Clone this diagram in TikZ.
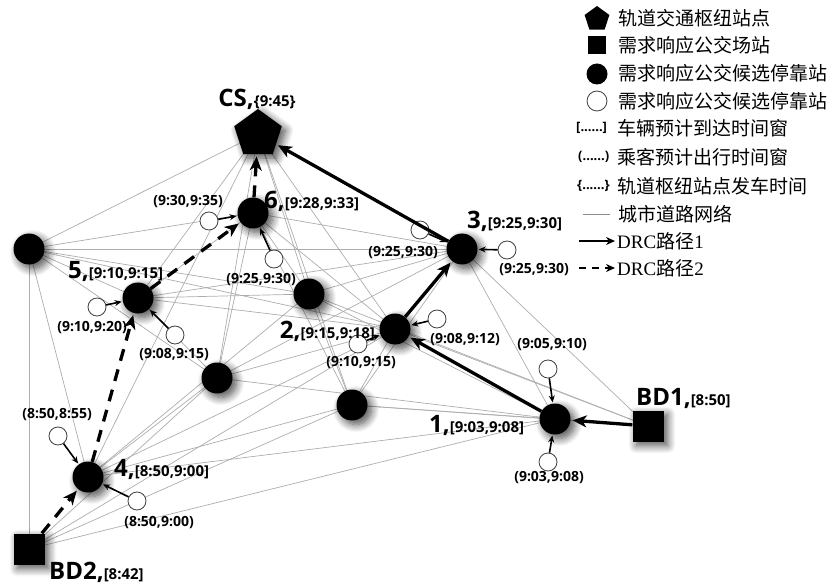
\documentclass[tikz,border=0pt]{standalone}
\usepackage{fontspec}
\usetikzlibrary{shapes.geometric,arrows.meta,shadows.blur}
\newfontfamily\osfont{Open Sans}
\newfontfamily\cjk{Noto Sans CJK SC}
\newfontfamily\tms{Liberation Serif}
\newcommand\biglab[2]{{\fontsize{24}{24}\selectfont #1,}{\fontsize{15}{15}\selectfont #2}}
\pgfdeclarelayer{bg}
\pgfsetlayers{bg,main}
\tikzset{
  shad/.style={blur shadow={shadow xshift=4pt,shadow yshift=-4pt,shadow blur radius=8pt,shadow blur steps=10,shadow opacity=70}},
  bnode/.style={circle,fill=black,minimum size=31pt,inner sep=0pt,shad},
  wnode/.style={circle,draw=black!75,fill=white,minimum size=18pt,inner sep=0pt,line width=0.8pt},
  sqnode/.style={rectangle,fill=black,minimum size=31pt,inner sep=0pt,shad},
  pentnode/.style={regular polygon,regular polygon sides=5,fill=black,minimum size=50pt,inner sep=0pt,shad},
  road/.style={draw=black!32,line width=0.7pt},
  routeA/.style={line width=3.3pt,shorten >=2pt,-{Stealth[length=14pt,width=12pt,inset=4pt]}},
  routeB/.style={routeA,dash pattern=on 12pt off 9pt},
  feed/.style={line width=1.6pt,shorten >=1pt,-{Stealth[length=7pt,width=6pt]}},
  lab/.style={font=\osfont\bfseries,inner sep=0pt},
  tlab/.style={font=\osfont\bfseries\fontsize{14}{14}\selectfont,inner sep=0pt},
  legtxt/.style={font=\cjk\fontsize{19}{19}\selectfont,anchor=west,inner sep=0pt},
  brk/.style={font=\osfont\bfseries\fontsize{13}{13}\selectfont,anchor=west,inner sep=0pt},
}
\begin{document}
\begin{tikzpicture}[x=1pt,y=-1pt]
\useasboundingbox (0,0) rectangle (835,585);
% main nodes
\node[pentnode] (CS) at (258,134) {};
\node[bnode] (n6) at (253,213) {};
\node[bnode] (n3) at (462,249) {};
\node[bnode] (n5) at (138,298) {};
\node[bnode] (nA) at (29,249) {};
\node[bnode] (nB) at (309,294) {};
\node[bnode] (n2) at (395,329) {};
\node[bnode] (nC) at (217,378) {};
\node[bnode] (nD) at (352,405) {};
\node[bnode] (n1) at (555,419) {};
\node[bnode] (n4) at (88,477) {};
\node[sqnode] (BD1) at (648,426) {};
\node[sqnode] (BD2) at (29,549) {};
% white nodes
\node[wnode] (w6a) at (209,221) {};
\node[wnode] (w6b) at (274,259) {};
\node[wnode] (w3a) at (420,230) {};
\node[wnode] (w3b) at (507,250) {};
\node[wnode] (w5a) at (97,307) {};
\node[wnode] (w5b) at (175,335) {};
\node[wnode] (w2a) at (437,319) {};
\node[wnode] (w2b) at (358,344) {};
\node[wnode] (w1a) at (548,369) {};
\node[wnode] (w1b) at (548,462) {};
\node[wnode] (w4a) at (58,436) {};
\node[wnode] (w4b) at (137,501) {};
% road network
\begin{pgfonlayer}{bg}
\foreach \a/\b in {nA/CS,nA/n6,nA/n3,nA/n2,nA/nB,nA/BD2,nA/n4,nA/n5,nA/nC,
  CS/n5,CS/n4,CS/nC,CS/nB,CS/n2,CS/nD,
  n6/n3,n6/nB,n6/n2,n6/nC,n6/nD,n6/n5,
  n3/n5,n3/nB,n3/n1,n3/BD1,n3/nD,n3/nC,
  n5/n2,n5/nC,n5/nB,
  nB/n4,nB/nD,nB/n1,nB/BD1,
  n2/nC,n2/nD,n2/n4,n2/BD1,
  nC/n4,nC/n1,nC/BD2,
  nD/n4,nD/n1,nD/BD1,nD/BD2,
  n1/n4,n1/BD2,BD2/n2}
  \draw[road] (\a.center) -- (\b.center);
\end{pgfonlayer}
% feeder arrows
\foreach \w/\n in {w6a/n6,w6b/n6,w3a/n3,w3b/n3,w5a/n5,w5b/n5,w2a/n2,w2b/n2,w1a/n1,w1b/n1,w4a/n4,w4b/n4}
  \draw[feed] (\w) -- (\n);
% routes
\draw[routeA] (BD1) -- (n1);
\draw[routeA] (n1) -- (n2);
\draw[routeA] (n2) -- (n3);
\draw[routeA] (n3) -- (CS);
\draw[routeB] (BD2) -- (n4);
\draw[routeB] (n4) -- (n5);
\draw[routeB] (n5) -- (n6);
\draw[routeB] (n6) -- (CS);
% labels of main nodes
\node[lab,anchor=base] (lCS) at (257,107) {\biglab{CS}{\{9:45\}}};
\node[lab,anchor=base west] (l6) at (264,209) {\biglab{6}{[9:28,9:33]}};
\node[lab,anchor=base west] (l3) at (467,229) {\biglab{3}{[9:25,9:30]}};
\node[lab,anchor=base west] (l5) at (68,279) {\biglab{5}{[9:10,9:15]}};
\node[lab,anchor=base east] (l2) at (375,338) {\biglab{2}{[9:15,9:18]}};
\node[lab,anchor=base west] (l1) at (429,432) {\biglab{1}{[9:03,9:08]}};
\node[lab,anchor=base west] (l4) at (114,476) {\biglab{4}{[8:50,9:00]}};
\node[lab,anchor=base west] (lBD1) at (636,405) {\biglab{BD1}{[8:50]}};
\node[lab,anchor=base west] (lBD2) at (49,579) {\biglab{BD2}{[8:42]}};
% labels of white nodes
\node[tlab] (t6a) at (188,202) {(9:30,9:35)};
\node[tlab] (t6b) at (261,280) {(9:25,9:30)};
\node[tlab] (t3a) at (403,253) {(9:25,9:30)};
\node[tlab] (t3b) at (534,270) {(9:25,9:30)};
\node[tlab] (t5a) at (92,328) {(9:10,9:20)};
\node[tlab] (t5b) at (174,355) {(9:08,9:15)};
\node[tlab] (t2a) at (465,340) {(9:08,9:12)};
\node[tlab] (t2b) at (361,363) {(9:10,9:15)};
\node[tlab] (t1a) at (552,345) {(9:05,9:10)};
\node[tlab] (t1b) at (549,478) {(9:03,9:08)};
\node[tlab] (t4a) at (57,415) {(8:50,8:55)};
\node[tlab] (t4b) at (159,523) {(8:50,9:00)};
% legend
\node[regular polygon,regular polygon sides=5,fill=black,minimum size=26pt,inner sep=0pt] (g1) at (597,19) {};
\node[legtxt] (L1) at (618,18) {轨道交通枢纽站点};
\node[rectangle,fill=black,minimum size=18pt,inner sep=0pt] (g2) at (597,45) {};
\node[legtxt] (L2) at (618,45) {需求响应公交场站};
\node[circle,fill=black,minimum size=21pt,inner sep=0pt] (g3) at (597,74) {};
\node[legtxt] (L3) at (618,73) {需求响应公交候选停靠站};
\node[circle,draw=black!75,line width=0.8pt,fill=white,minimum size=20pt,inner sep=0pt] (g4) at (597,101) {};
\node[legtxt] (L4) at (618,101) {需求响应公交候选停靠站};
\node[brk] (g5) at (576,128) {[......]};
\node[legtxt] (L5) at (617,128) {车辆预计到达时间窗};
\node[brk] (g6) at (578,157) {(......)};
\node[legtxt] (L6) at (617,157) {乘客预计出行时间窗};
\node[brk] (g7) at (577,186) {\{......\}};
\node[legtxt] (L7) at (617,186) {轨道枢纽站点发车时间};
\coordinate (r8a) at (583,214);
\coordinate (r8b) at (610,214);
\draw[black!45,line width=0.9pt] (r8a) -- (r8b);
\node[legtxt] (L8) at (618,214) {城市道路网络};
\coordinate (r9a) at (579,241);
\coordinate (r9b) at (615,241);
\draw[line width=2.6pt,-{Stealth[length=9pt,width=8pt]}] (r9a) -- (r9b);
\node[legtxt] (L9) at (617,241) {{\tms DRC}路径{\tms 1}};
\coordinate (r10a) at (579,268);
\coordinate (r10b) at (615,268);
\draw[line width=2.6pt,dash pattern=on 7pt off 6pt,-{Stealth[length=9pt,width=8pt]}] (r10a) -- (r10b);
\node[legtxt] (L10) at (617,268) {{\tms DRC}路径{\tms 2}};
\end{tikzpicture}
\end{document}
